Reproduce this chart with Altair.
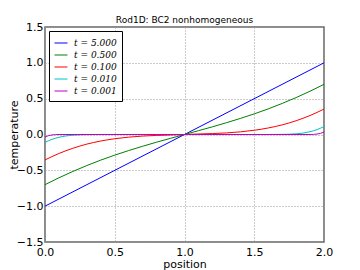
import altair as alt
import pandas as pd

labels = ["t = 5.000", "t = 0.500", "t = 0.100", "t = 0.010", "t = 0.001"]
colors = ["#0000ff", "#008000", "#ff0000", "#00bfbf", "#bf00bf"]

x_blue = [0.0, 1.0, 2.0]
y_blue = [-1.0, 0.0, 1.0]

x_grid = [0.0, 0.1, 0.2, 0.3, 0.4, 0.5, 0.6, 0.7, 0.8, 0.9, 1.0,
          1.1, 1.2, 1.3, 1.4, 1.5, 1.6, 1.7, 1.8, 1.9, 2.0]
y_green = [-0.700, -0.604, -0.515, -0.433, -0.357, -0.288, -0.224, -0.164, -0.107, -0.053, 0.0,
           0.053, 0.107, 0.164, 0.224, 0.288, 0.357, 0.433, 0.515, 0.604, 0.700]

x_red = [0.0, 0.05, 0.1, 0.2, 0.3, 0.4, 0.5, 0.6, 0.7, 0.8, 0.9, 1.0,
         1.1, 1.2, 1.3, 1.4, 1.5, 1.6, 1.7, 1.8, 1.9, 1.95, 2.0]
y_red = [-0.355, -0.308, -0.265, -0.192, -0.134, -0.091, -0.059, -0.037, -0.022, -0.013, -0.007, 0.0,
         0.007, 0.013, 0.022, 0.037, 0.059, 0.091, 0.134, 0.192, 0.265, 0.308, 0.355]

x_cyan = [0.0, 0.05, 0.1, 0.15, 0.2, 0.3, 0.4, 1.6, 1.7, 1.8, 1.85, 1.9, 1.95, 2.0]
y_cyan = [-0.110, -0.068, -0.039, -0.020, -0.0095, -0.0017, 0.0,
          0.0, 0.0017, 0.0095, 0.020, 0.039, 0.068, 0.110]

x_mag = [0.0, 0.025, 0.05, 0.075, 0.1, 1.9, 1.925, 1.95, 1.975, 2.0]
y_mag = [-0.034, -0.016, -0.006, -0.0017, 0.0, 0.0, 0.0017, 0.006, 0.016, 0.034]

series = [(x_blue, y_blue), (x_grid, y_green), (x_red, y_red), (x_cyan, y_cyan), (x_mag, y_mag)]
rows = []
for i, (xs, ys) in enumerate(series):
    for xv, yv in zip(xs, ys):
        rows.append({"position": xv, "temperature": yv, "t": labels[i], "k": i})
df = pd.DataFrame(rows)

chart = alt.Chart(df).mark_line(strokeWidth=1, interpolate="monotone").encode(
    x=alt.X("position:Q", scale=alt.Scale(domain=[0, 2], nice=False),
            axis=alt.Axis(values=[0, 0.5, 1, 1.5, 2], format=".1f", title="position",
                          titleY=25, titleBaseline="alphabetic")),
    y=alt.Y("temperature:Q", scale=alt.Scale(domain=[-1.5, 1.5], nice=False),
            axis=alt.Axis(values=[-1.5, -1, -0.5, 0, 0.5, 1, 1.5], format=".1f", title="temperature",
                          titleX=-37, titleY=107.5, titleBaseline="top", titleAlign="center",
                          titleAngle=270)),
    color=alt.Color("t:N", scale=alt.Scale(domain=labels, range=colors),
                    legend=alt.Legend(title=None, orient="none", legendX=4, legendY=4,
                                      symbolType="stroke", symbolSize=169, symbolStrokeWidth=1,
                                      labelFont="DejaVu Serif", labelFontSize=9, labelFontStyle="italic",
                                      rowPadding=0, padding=5, strokeColor="#000", fillColor="#fff",
                                      labelLimit=200, labelOffset=6)),
    order=alt.Order("k:Q"),
    detail="k:N",
).properties(
    width=279, height=215,
    title=alt.TitleParams("Rod1D: BC2 nonhomogeneous", fontSize=9, font="DejaVu Sans",
                          fontWeight="normal", offset=3, dy=7, anchor="middle"),
    autosize=alt.AutoSizeParams(type="none"),
    padding={"left": 37, "top": 19, "right": 28, "bottom": 28},
).configure_view(
    stroke="#666", strokeWidth=1.5
).configure_axis(
    grid=True, gridColor="#999", gridDash=[1, 2], gridWidth=1,
    ticks=False, domain=False, labelFlush=False,
    labelFont="DejaVu Sans", labelFontSize=11, labelColor="#000",
    titleFont="DejaVu Sans", titleFontSize=11, titleFontWeight="normal", titleColor="#000",
).configure_axisX(labelPadding=4).configure_axisY(labelPadding=2)

chart.save("out.html", embed_options={"renderer": "svg", "actions": False})
